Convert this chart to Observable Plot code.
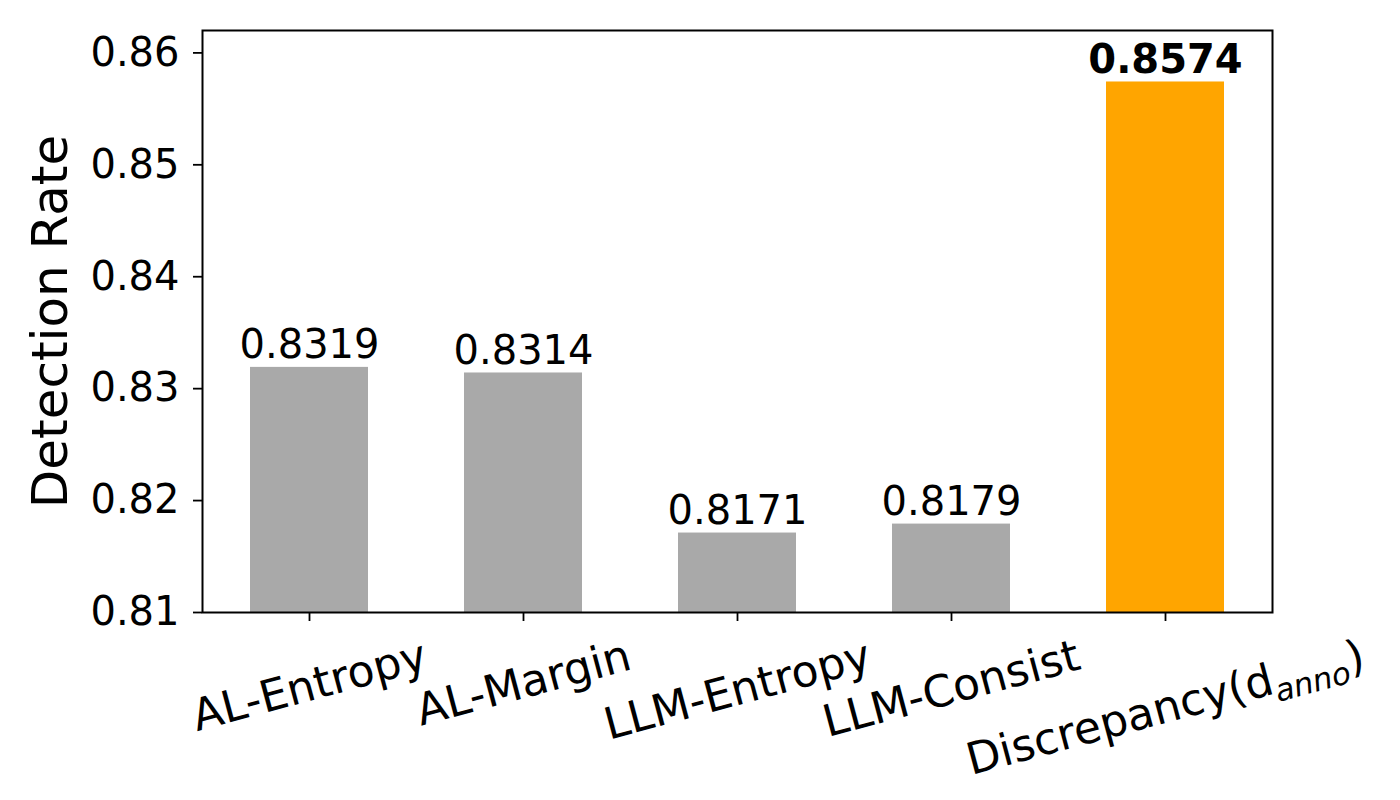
<!DOCTYPE html>
<html>
<head>
<meta charset="utf-8">
<script src="https://cdn.jsdelivr.net/npm/d3@7"></script>
<script src="https://cdn.jsdelivr.net/npm/@observablehq/plot@0.6"></script>
<style>
  html, body { margin: 0; padding: 0; background: white; }
  #chart { width: 1400px; height: 800px; }
</style>
</head>
<body>
<div id="chart"></div>
<script>
// ---- data ----
const categories = ["AL-Entropy", "AL-Margin", "LLM-Entropy", "LLM-Consist", "Discrepancy(d_anno)"];
const values = [0.8319, 0.8314, 0.8171, 0.8179, 0.8574];
const barColors = ["#a9a9a9", "#a9a9a9", "#a9a9a9", "#a9a9a9", "#ffa500"];
const valueWeights = ["normal", "normal", "normal", "normal", "bold"];
const yTicks = [0.81, 0.82, 0.83, 0.84, 0.85, 0.86];
const yDomain = [0.81, 0.862];
const yLabel = "Detection Rate";

const FONT = "DejaVu Sans";
const FS = 40;       // tick & value labels
const XFS = 44;      // x category labels
const SUB_FS = 31;
const SUB_SHIFT = 9;

const data = categories.map((name, i) => ({
  name, value: values[i], color: barColors[i], weight: valueWeights[i],
  label: d3.format(".4f")(values[i])
}));

// measure label widths to emulate matplotlib rotated-label placement
const ctx = document.createElement("canvas").getContext("2d");
function measure(str, size, style) {
  ctx.font = `${style || "normal"} ${size}px "${FONT}"`;
  return ctx.measureText(str).width;
}
function labelWidth(name) {
  const m = name.match(/^(.*)_([a-z]+)\)$/);
  if (m) return measure(m[1], XFS) + measure(m[2], SUB_FS, "italic") + measure(")", XFS);
  return measure(name, XFS);
}
const ang = 15 * Math.PI / 180;
const lineH = 1.164 * XFS;

const xLabelMarks = data.map(d => {
  const w = labelWidth(d.name);
  const H = w * Math.sin(ang) + lineH * Math.cos(ang);
  return Plot.text([d], {
    x: "name", text: "name", frameAnchor: "bottom",
    dy: 9 + 9 + H / 2, rotate: -15,
    textAnchor: "middle", lineAnchor: "middle",
    fontSize: XFS, fill: "black"
  });
});

const chart = Plot.plot({
  width: 1400, height: 800,
  marginLeft: 202, marginRight: 128, marginTop: 30, marginBottom: 188,
  style: { fontFamily: FONT, fontSize: FS + "px", background: "white", color: "black" },
  x: { type: "band", domain: categories, paddingInner: 0.45, paddingOuter: 0.225, axis: null },
  y: { domain: yDomain, axis: null },
  color: { type: "identity" },
  marks: [
    Plot.barY(data, { x: "name", y1: yDomain[0], y2: "value", fill: "color" }),
    Plot.text(data.filter(d => d.weight === "normal"), {
      x: "name", y: "value", text: "label", lineAnchor: "bottom", dy: -9,
      fontSize: FS, fill: "black"
    }),
    Plot.text(data.filter(d => d.weight === "bold"), {
      x: "name", y: "value", text: "label", lineAnchor: "bottom", dy: -9,
      fontSize: FS, fontWeight: "bold", fill: "black"
    }),
    Plot.axisY(yTicks, {
      tickFormat: d3.format(".2f"), tickSize: 9, tickPadding: 14,
      fontSize: FS, strokeWidth: 1.8, label: null, stroke: "black", fill: "black"
    }),
    Plot.axisX({
      tickFormat: () => "", tickSize: 9, strokeWidth: 1.8, label: null, stroke: "black"
    }),
    ...xLabelMarks,
    Plot.text([yLabel], {
      text: d => d, frameAnchor: "left", dx: -152, rotate: -90,
      textAnchor: "middle", lineAnchor: "middle", fontSize: 50, fill: "black"
    }),
    Plot.frame({ stroke: "black", strokeWidth: 2 })
  ]
});

// subscript rendering for "_anno"
chart.querySelectorAll("text").forEach(t => {
  const s = t.textContent;
  const m = s.match(/^(.*)_([a-z]+)\)$/);
  if (!m) return;
  const ns = "http://www.w3.org/2000/svg";
  while (t.firstChild) t.removeChild(t.firstChild);
  const a = document.createElementNS(ns, "tspan");
  a.textContent = m[1];
  const b = document.createElementNS(ns, "tspan");
  b.textContent = m[2];
  b.setAttribute("font-size", SUB_FS);
  b.setAttribute("font-style", "italic");
  b.setAttribute("dy", SUB_SHIFT);
  const c = document.createElementNS(ns, "tspan");
  c.textContent = ")";
  c.setAttribute("dy", -SUB_SHIFT);
  t.append(a, b, c);
});

document.getElementById("chart").appendChild(chart);
</script>
</body>
</html>
